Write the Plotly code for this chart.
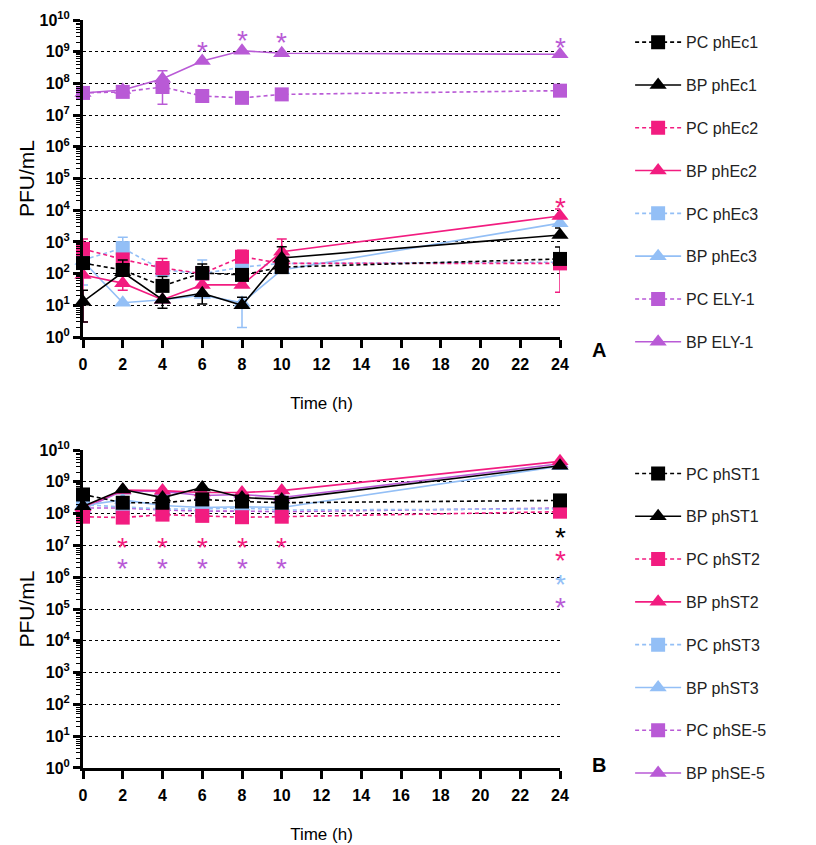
import math
import plotly.graph_objects as go

# ---------------- data ----------------
times = [0, 2, 4, 6, 8, 10, 24]
x_ticks = [0, 2, 4, 6, 8, 10, 12, 14, 16, 18, 20, 22, 24]
y_exponents = list(range(0, 11))

# Panel A (PFU/mL)
pc_phEc1 = [215, 130, 41, 105, 91, 160, 290]
bp_phEc1 = [13, 110, 15, 24, 10, 310, 1650]
pc_phEc2 = [600, 280, 150, 100, 340, 210, 210]
bp_phEc2 = [90, 50, 15, 44, 44, 490, 6600]
pc_phEc3 = [270, 640, 130, 100, 160, 210, 230]
bp_phEc3 = [250, 12, 15, 21, 12, 130, 3900]
pc_ely1 = [5.0e7, 5.4e7, 7.7e7, 4.0e7, 3.5e7, 4.5e7, 5.9e7]
bp_ely1 = [5.0e7, 6.2e7, 1.4e8, 5.1e8, 1.07e9, 8.9e8, 8.3e8]

# Panel A error bars (upper / lower magnitudes)
pc_phEc1_hi = [0, 140, 40, 95, 0, 0, 400]
pc_phEc1_lo = [0, 0, 0, 0, 0, 0, 0]
bp_phEc1_hi = [17, 0, 0, 0, 8, 390, 1100]
bp_phEc1_lo = [10, 0, 7, 13, 0, 0, 0]
pc_phEc2_hi = [630, 0, 150, 0, 210, 0, 0]
pc_phEc2_lo = [0, 0, 0, 0, 0, 0, 184]
bp_phEc2_hi = [0, 0, 0, 0, 0, 740, 4400]
bp_phEc2_lo = [87, 20, 0, 0, 0, 0, 0]
pc_phEc3_hi = [0, 760, 0, 170, 0, 0, 0]
pc_phEc3_lo = [226, 0, 0, 0, 0, 0, 0]
bp_phEc3_hi = [0, 0, 0, 0, 0, 0, 0]
bp_phEc3_lo = [0, 0, 0, 0, 10, 0, 0]
pc_ely1_hi = [0, 0, 0, 0, 0, 0, 0]
pc_ely1_lo = [0, 0, 5.5e7, 0, 0, 0, 0]
bp_ely1_hi = [0, 0, 1.1e8, 0, 0, 0, 0]
bp_ely1_lo = [0, 0, 0, 0, 0, 0, 0]

# Panel B (PFU/mL)
pc_phST1 = [4.0e8, 2.2e8, 2.2e8, 2.8e8, 2.4e8, 2.2e8, 2.6e8]
bp_phST1 = [1.7e8, 5.7e8, 3.2e8, 6.6e8, 3.2e8, 2.8e8, 3.2e9]
pc_phST2 = [8.0e7, 7.5e7, 9.3e7, 8.5e7, 7.7e7, 8.0e7, 1.15e8]
bp_phST2 = [1.6e8, 5.5e8, 5.3e8, 4.6e8, 4.6e8, 5.3e8, 4.4e9]
pc_phST3 = [1.9e8, 1.65e8, 1.4e8, 1.4e8, 1.5e8, 1.3e8, 1.4e8]
bp_phST3 = [1.8e8, 2.7e8, 1.8e8, 1.55e8, 1.65e8, 1.55e8, 3.1e9]
pc_phSE5 = [1.5e8, 1.5e8, 1.3e8, 1.2e8, 1.2e8, 1.15e8, 1.5e8]
bp_phSE5 = [1.4e8, 5.2e8, 5.0e8, 3.7e8, 4.0e8, 3.2e8, 3.7e9]

# significance asterisks (x, y position in PFU/mL)
starA_purple_x = [6, 8, 10, 24]
starA_purple_y = [1.4e9, 3.2e9, 2.7e9, 1.9e9]
starA_pink_x = [24]
starA_pink_y = [1.7e4]
starB_pink_x = [2, 4, 6, 8, 10, 24]
starB_pink_y = [1.2e7, 1.2e7, 1.2e7, 1.2e7, 1.2e7, 4.7e6]
starB_purple_x = [2, 4, 6, 8, 10, 24]
starB_purple_y = [2.6e6, 2.6e6, 2.6e6, 2.6e6, 2.6e6, 1.5e5]
starB_black_x = [24]
starB_black_y = [2.5e7]
starB_blue_x = [24]
starB_blue_y = [8.3e5]

# ---------------- styles ----------------
BLACK = "#000000"
PINK = "#F21C80"
BLUE = "#93BFF6"
PURPLE = "#B95AD6"
FONT = "Liberation Sans"

fig = go.Figure()

panelA = [
    ("PC phEc1", pc_phEc1, pc_phEc1_hi, pc_phEc1_lo, BLACK, "square", "dash"),
    ("BP phEc1", bp_phEc1, bp_phEc1_hi, bp_phEc1_lo, BLACK, "triangle-up", "solid"),
    ("PC phEc2", pc_phEc2, pc_phEc2_hi, pc_phEc2_lo, PINK, "square", "dash"),
    ("BP phEc2", bp_phEc2, bp_phEc2_hi, bp_phEc2_lo, PINK, "triangle-up", "solid"),
    ("PC phEc3", pc_phEc3, pc_phEc3_hi, pc_phEc3_lo, BLUE, "square", "dash"),
    ("BP phEc3", bp_phEc3, bp_phEc3_hi, bp_phEc3_lo, BLUE, "triangle-up", "solid"),
    ("PC ELY-1", pc_ely1, pc_ely1_hi, pc_ely1_lo, PURPLE, "square", "dash"),
    ("BP ELY-1", bp_ely1, bp_ely1_hi, bp_ely1_lo, PURPLE, "triangle-up", "solid"),
]
panelB = [
    ("PC phST1", pc_phST1, None, None, BLACK, "square", "dash"),
    ("BP phST1", bp_phST1, None, None, BLACK, "triangle-up", "solid"),
    ("PC phST2", pc_phST2, None, None, PINK, "square", "dash"),
    ("BP phST2", bp_phST2, None, None, PINK, "triangle-up", "solid"),
    ("PC phST3", pc_phST3, None, None, BLUE, "square", "dash"),
    ("BP phST3", bp_phST3, None, None, BLUE, "triangle-up", "solid"),
    ("PC phSE-5", pc_phSE5, None, None, PURPLE, "square", "dash"),
    ("BP phSE-5", bp_phSE5, None, None, PURPLE, "triangle-up", "solid"),
]


def add_panel(series, xaxis, yaxis, legend):
    n = len(series)
    # draw in reverse so the first legend entries sit on top
    for rank in reversed(range(n)):
        name, vals, hi, lo, color, sym, dash = series[rank]
        err = None
        if hi is not None:
            err = dict(type="data", symmetric=False, array=hi, arrayminus=lo,
                       color=color, thickness=1.5, width=5)
        fig.add_trace(go.Scatter(
            x=times, y=vals, name=name, mode="lines+markers",
            xaxis=xaxis, yaxis=yaxis, legend=legend,
            legendrank=rank + 1, legendgroup=legend + name,
            line=dict(color=color, width=1.6, dash="4px,3px" if dash == "dash" else "solid"),
            marker=dict(symbol=sym, size=15 if sym == "triangle-up" else 14, color=color,
                        line=dict(width=0)),
            error_y=err, cliponaxis=False,
        ))


add_panel(panelA, "x", "y", "legend")
add_panel(panelB, "x2", "y2", "legend2")

star_annotations = []


def add_stars(xs, ys, color, xref, yref):
    for xv, yv in zip(xs, ys):
        star_annotations.append(dict(
            text="*", x=xv, y=math.log10(yv), xref=xref, yref=yref,
            showarrow=False, yshift=-4, height=18, valign="middle",
            font=dict(family=FONT, size=28, color=color),
        ))


add_stars(starA_purple_x, starA_purple_y, PURPLE, "x", "y")
add_stars(starA_pink_x, starA_pink_y, PINK, "x", "y")
add_stars(starB_pink_x, starB_pink_y, PINK, "x2", "y2")
add_stars(starB_purple_x, starB_purple_y, PURPLE, "x2", "y2")
add_stars(starB_black_x, starB_black_y, BLACK, "x2", "y2")
add_stars(starB_blue_x, starB_blue_y, BLUE, "x2", "y2")

ytickvals = [10 ** e for e in y_exponents]
yticktext = ["10<sup>%d</sup>" % e for e in y_exponents]

xaxis_common = dict(
    range=[0, 24], tickvals=x_ticks, ticktext=[str(t) for t in x_ticks],
    showline=True, linecolor="black", linewidth=3, ticks="outside", ticklen=8,
    tickwidth=3, tickcolor="black", showgrid=False, zeroline=False, automargin=False,
    ticklabelstandoff=3,
    tickfont=dict(family=FONT, size=16, color="black", weight="bold"),
    title=dict(text="Time (h)", font=dict(family=FONT, size=17, color="black"), standoff=25),
)
yaxis_common = dict(
    type="log", range=[0, 10], tickvals=ytickvals, ticktext=yticktext,
    showline=True, linecolor="black", linewidth=3, ticks="outside", ticklen=7,
    tickwidth=2.5, tickcolor="black", automargin=False,
    showgrid=True, gridcolor="black", gridwidth=1.3, griddash="dot",
    minor=dict(ticks="outside", ticklen=4, tickwidth=1.2, tickcolor="black", dtick="D1", showgrid=False),
    zeroline=False,
    tickfont=dict(family=FONT, size=16, color="black", weight="bold"),
    title=dict(text="PFU/mL", font=dict(family=FONT, size=21, color="black"), standoff=0),
)

# page body has an 8px margin, so the figure is 8px smaller in each direction
fig.update_layout(
    width=808, height=837,
    margin=dict(l=75, r=256, t=12, b=77, autoexpand=False),
    paper_bgcolor="white", plot_bgcolor="white",
    showlegend=True,
    xaxis=dict(domain=[0, 1], anchor="y", **xaxis_common),
    yaxis=dict(domain=[0.5762, 1], anchor="x", **yaxis_common),
    xaxis2=dict(domain=[0, 1], anchor="y2", **xaxis_common),
    yaxis2=dict(domain=[0, 0.4251], anchor="x2", **yaxis_common),
    legend=dict(x=1.147, y=0.993, xanchor="left", yanchor="top", tracegroupgap=19,
                itemwidth=46,
                font=dict(family=FONT, size=16, color="#222"), bgcolor="rgba(0,0,0,0)"),
    legend2=dict(x=1.147, y=0.4164, xanchor="left", yanchor="top", tracegroupgap=19,
                 itemwidth=46,
                 font=dict(family=FONT, size=16, color="#222"), bgcolor="rgba(0,0,0,0)"),
    annotations=[
        dict(text="<b>A</b>", x=1.101, y=0.559, xref="paper", yref="paper",
             showarrow=False, font=dict(family=FONT, size=20, color="black")),
        dict(text="<b>B</b>", x=1.101, y=-0.0134, xref="paper", yref="paper",
             showarrow=False, font=dict(family=FONT, size=20, color="black")),
    ] + star_annotations,
)

fig.write_html("out.html")
